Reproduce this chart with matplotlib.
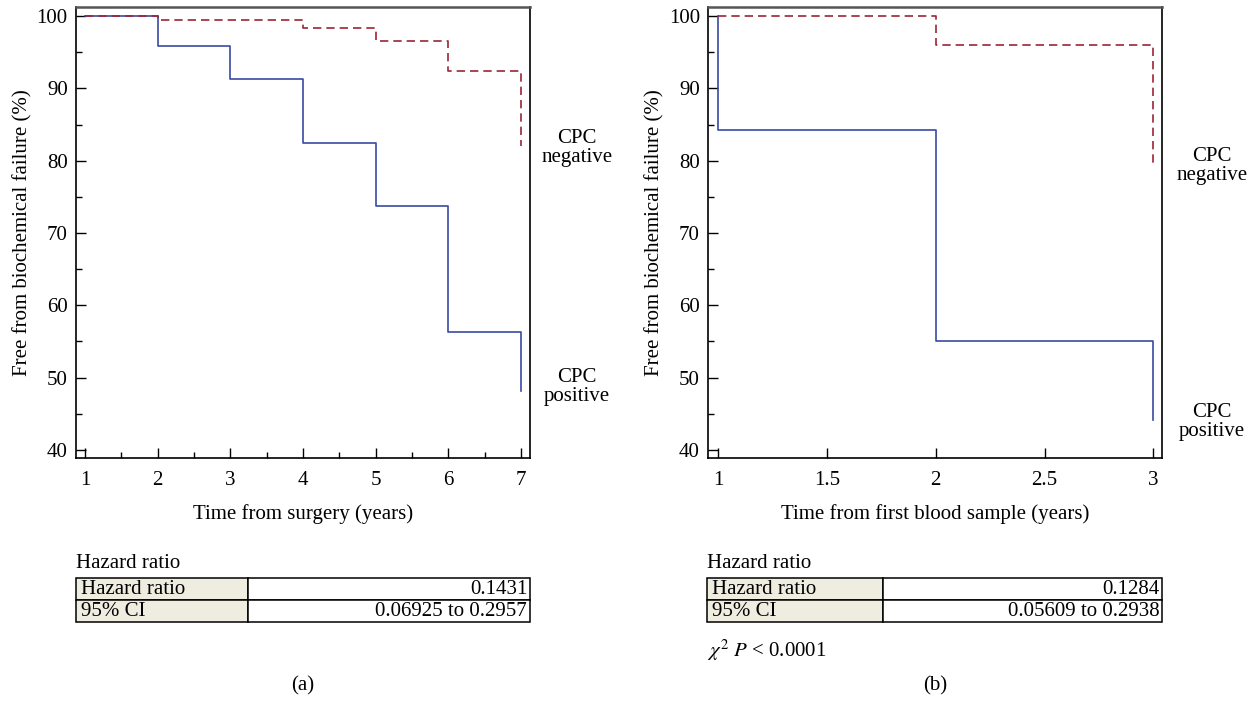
import matplotlib
matplotlib.use("Agg")
import matplotlib.pyplot as plt
from matplotlib.ticker import MultipleLocator, FormatStrFormatter

plt.rcParams['font.family'] = ['Liberation Serif', 'DejaVu Serif']
plt.rcParams['mathtext.fontset'] = 'stix'

# panel (a): time from surgery
years_a = [1, 2, 3, 4, 5, 6, 7, 7]
pos_a = [100, 95.8, 91.3, 82.4, 73.8, 56.3, 56.3, 48.2]
neg_a = [100, 99.4, 99.4, 98.3, 96.5, 92.4, 92.4, 82.0]
table_a = [["Hazard ratio", "0.1431"], ["95% CI", "0.06925 to 0.2957"]]

# panel (b): time from first blood sample
years_b = [1, 1, 2, 3, 3]
pos_b = [100, 84.3, 55.1, 55.1, 44.2]
neg_b = [100, 100, 96.0, 96.0, 79.5]
table_b = [["Hazard ratio", "0.1284"], ["95% CI", "0.05609 to 0.2938"]]

blue = '#3a4aa3'
red = '#9c2535'
beige = '#efede0'
FS = 15

W, H = 1253, 702
fig = plt.figure(figsize=(W / 100, H / 100), dpi=100)


def px_rect(x0, y0, x1, y1):
    # pixel box (top-left origin) -> figure fraction rect
    return [x0 / W, 1 - y1 / H, (x1 - x0) / W, (y1 - y0) / H]


def km_panel(rect, x, pos, neg, xlim, xmajor, xminor, xlabel):
    ax = fig.add_axes(rect)
    ax.step(x, pos, where='post', color=blue, lw=1.2)
    ax.step(x, neg, where='post', color=red, lw=1.2, ls=(0, (5, 3)))
    ax.set_xlim(*xlim)
    ax.set_ylim(38.85, 101.25)
    ax.xaxis.set_major_locator(MultipleLocator(xmajor))
    ax.xaxis.set_major_formatter(FormatStrFormatter('%g'))
    if xminor:
        ax.xaxis.set_minor_locator(MultipleLocator(xminor))
    ax.yaxis.set_major_locator(MultipleLocator(10))
    ax.yaxis.set_minor_locator(MultipleLocator(5))
    ax.tick_params(which='both', direction='in', labelsize=FS, width=1.0)
    ax.tick_params(which='major', length=7)
    ax.tick_params(which='minor', length=4)
    ax.tick_params(axis='x', pad=9)
    ax.tick_params(axis='y', pad=6)
    ax.set_xlabel(xlabel, fontsize=FS, labelpad=10)
    ax.set_ylabel("Free from biochemical failure (%)", fontsize=FS, labelpad=3)
    for s in ax.spines.values():
        s.set_linewidth(1.2)
    ax.spines['top'].set_color('#555555')
    ax.spines['top'].set_linewidth(1.8)
    return ax


ax_a = km_panel(px_rect(76, 7, 529.5, 458.3), years_a, pos_a, neg_a,
                (0.876, 7.118), 1, 0.5, "Time from surgery (years)")
ax_b = km_panel(px_rect(708.3, 7, 1162, 458.3), years_b, pos_b, neg_b,
                (0.954, 3.04), 0.5, None, "Time from first blood sample (years)")

label_pos = {ax_a: (1.105, 0.687, 0.157), ax_b: (1.11, 0.648, 0.080)}
for ax, (lx, yn, yp) in label_pos.items():
    ax.text(lx, yn, "CPC\nnegative", transform=ax.transAxes,
            ha='center', va='center', fontsize=FS, linespacing=1.0)
    ax.text(lx, yp, "CPC\npositive", transform=ax.transAxes,
            ha='center', va='center', fontsize=FS, linespacing=1.0)


def hr_table(rect, rows, col0):
    tax = fig.add_axes(rect)
    tax.axis('off')
    tb = tax.table(cellText=rows, colWidths=[col0, 1 - col0],
                   cellColours=[[beige, 'white'], [beige, 'white']],
                   cellLoc='right', bbox=[0, 0, 1, 1])
    tb.auto_set_font_size(False)
    for (r, c), cell in tb.get_celld().items():
        cell.set_fontsize(FS)
        cell.set_linewidth(1.1)
        if c == 0:
            cell.PAD = 0.03
            cell._loc = 'left'
            cell.get_text().set_horizontalalignment('left')
        else:
            cell.PAD = 0.01
    return tax


hr_table(px_rect(76, 578, 530, 622), table_a, (248 - 76) / (530 - 76))
hr_table(px_rect(707, 578, 1162, 622), table_b, (882.5 - 707) / (1162 - 707))

fig.text(76 / W, 1 - 563 / H, "Hazard ratio", fontsize=FS, ha='left', va='center')
fig.text(707 / W, 1 - 563 / H, "Hazard ratio", fontsize=FS, ha='left', va='center')
fig.text(707 / W, 1 - 650 / H, r"$\chi^2$ $P$ < 0.0001", fontsize=FS, ha='left', va='center')
fig.text(303 / W, 1 - 686 / H, "(a)", fontsize=FS, ha='center', va='center')
fig.text(935 / W, 1 - 686 / H, "(b)", fontsize=FS, ha='center', va='center')

fig.savefig("out.png", dpi=100)
